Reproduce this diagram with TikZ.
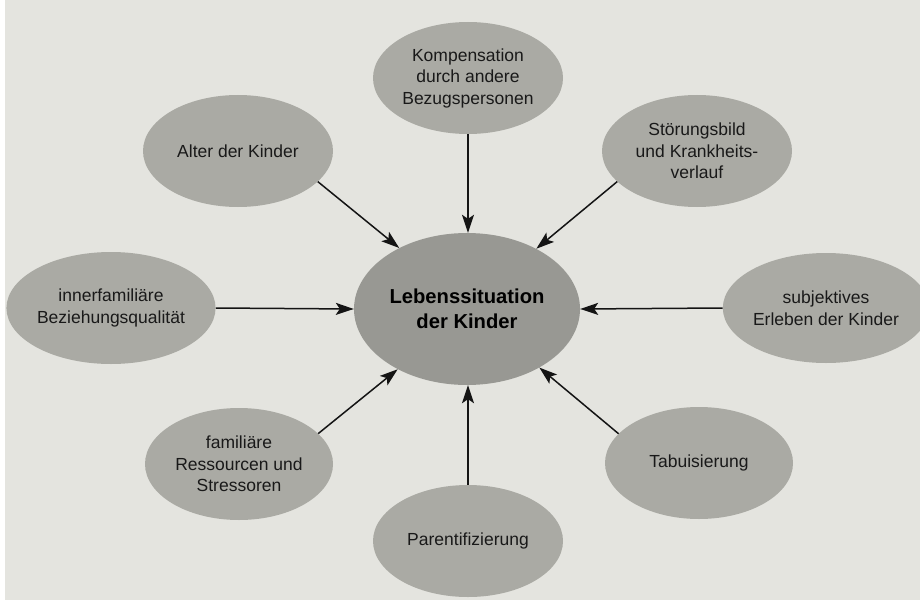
\documentclass[tikz,border=0pt]{standalone}
\usepackage{fontspec}
\setmainfont{Liberation Sans}
\usetikzlibrary{shapes.geometric,arrows.meta}
\definecolor{page}{RGB}{228,228,223}
\definecolor{ellfill}{RGB}{170,170,164}
\definecolor{cenfill}{RGB}{152,152,147}
\begin{document}
\begin{tikzpicture}[x=1pt,y=-1pt,
  outer/.style={ellipse, fill=ellfill, inner sep=0pt, minimum width=190pt,
    minimum height=112pt, align=center, text=black!90,
    font=\fontsize{17.5}{21.5}\selectfont},
  core/.style={ellipse, fill=cenfill, inner sep=0pt, minimum width=226pt,
    minimum height=152pt, align=center, text=black,
    font=\fontsize{20.2}{25}\selectfont\bfseries},
  link/.style={line width=1.5pt, draw=black!92,
    -{Stealth[length=18pt,width=12pt,inset=4pt]}}]
\useasboundingbox (0,0) rectangle (920,607);
\fill[white] (0,0) rectangle (920,607);
\fill[page] (5,0) rectangle (920,600);

\node[core] (center) at (467,309) {Lebenssituation\\der Kinder};
\node[outer] (komp) at (468,78) {Kompensation\\durch andere\\Bezugspersonen};
\node[outer] (alter) at (238,151) {Alter der Kinder};
\node[outer] (stoer) at (697,151) {Störungsbild\\und Krankheits-\\verlauf};
\node[outer, minimum width=192pt] (inner) at (111,308) {innerfamiliäre\\Beziehungsqualität};
\node[outer, minimum width=186pt, minimum height=110pt] (subj) at (826,308) {subjektives\\Erleben der Kinder};
\node[outer, minimum width=188pt] (famil) at (239,464) {familiäre\\Ressourcen und\\Stressoren};
\node[outer, minimum width=188pt] (tabu) at (699,463) {Tabuisierung};
\node[outer] (parent) at (468,541) {Parentifizierung};

\draw[link] (komp.south) -- (komp.south |- center.north);
\draw[link] (parent.north) -- (parent.north |- center.south);
\draw[link] (inner.east) -- (center.west);
\draw[link] (subj.west) -- (center.east);
\draw[link] (alter.-21) -- (center.138.5);
\draw[link] (stoer.-159.7) -- (center.41.5);
\draw[link] (famil.21) -- (center.-139.5);
\draw[link] (tabu.160) -- (center.-39.7);
\end{tikzpicture}
\end{document}
